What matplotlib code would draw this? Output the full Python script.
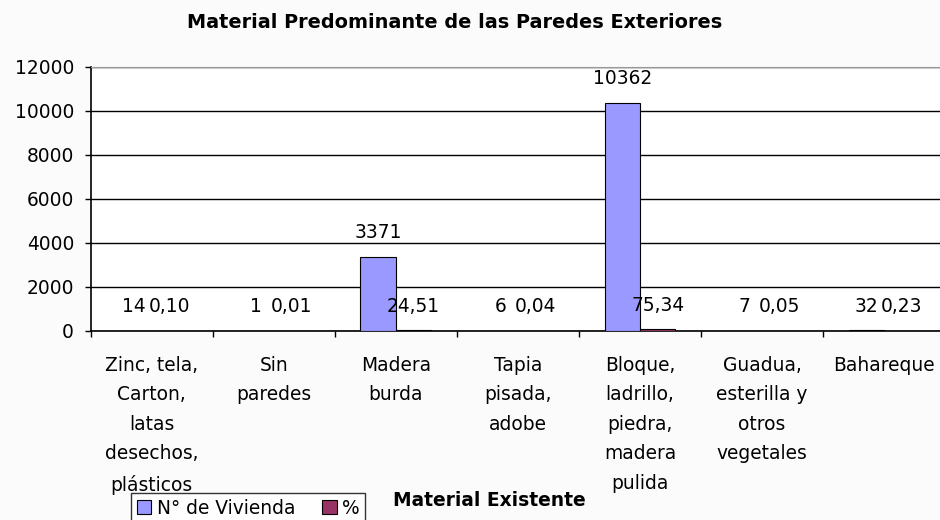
import matplotlib.pyplot as plt
import numpy as np

categorias = ['Zinc, tela,\nCarton,\nlatas\ndesechos,\nplásticos', 'Sin\nparedes',
              'Madera\nburda', 'Tapia\npisada,\nadobe',
              'Bloque,\nladrillo,\npiedra,\nmadera\npulida',
              'Guadua,\nesterilla y\notros\nvegetales', 'Bahareque']
viviendas = [14, 1, 3371, 6, 10362, 7, 32]
porcentaje = [0.10, 0.01, 24.51, 0.04, 75.34, 0.05, 0.23]
etiq_viv = ['14', '1', '3371', '6', '10362', '7', '32']
etiq_pct = ['0,10', '0,01', '24,51', '0,04', '75,34', '0,05', '0,23']
yticks = [0, 2000, 4000, 6000, 8000, 10000, 12000]

plt.rcParams['font.family'] = 'DejaVu Sans'
fs = 13.4

fig = plt.figure(figsize=(9.4, 5.2), dpi=100, facecolor='#fbfbfb')
ax = fig.add_axes([0.0965, 0.3635, 0.909, 0.5085])
ax.set_facecolor('white')

x = np.arange(len(categorias))
w = 0.29
ax.bar(x - w / 2, viviendas, w, color='#9999ff', edgecolor='black', linewidth=0.8,
       label='N° de Vivienda', zorder=3)
ax.bar(x + w / 2, porcentaje, w, color='#993366', edgecolor='black', linewidth=0.8,
       label='%', zorder=3)

# etiquetas de datos
for xi, v, t in zip(x - w / 2, viviendas, etiq_viv):
    ax.annotate(t, (xi, v), xytext=(0, 13.5), textcoords='offset points',
                ha='center', va='baseline', fontsize=fs, zorder=4)
for xi, v, t in zip(x + w / 2, porcentaje, etiq_pct):
    ax.annotate(t, (xi, v), xytext=(0, 13.5), textcoords='offset points',
                ha='center', va='baseline', fontsize=fs, zorder=4)

ax.set_xlim(-0.5, len(categorias) - 0.5)
ax.set_ylim(0, 12000)
ax.set_yticks(yticks)
ax.yaxis.grid(True, color='black', linewidth=1.0, zorder=0)
ax.tick_params(axis='y', labelsize=fs, length=4, width=1, pad=8)

ax.set_xticks(x)
ax.set_xticklabels(categorias, fontsize=fs, linespacing=1.7, va='top')
ax.set_xticks(np.arange(len(categorias) + 1) - 0.5, minor=True)
ax.tick_params(axis='x', which='major', length=0, pad=18)
ax.tick_params(axis='x', which='minor', length=4, width=1)

ax.spines['right'].set_visible(False)
ax.spines['top'].set_color('#999999')
ax.spines['left'].set_linewidth(1.2)
ax.spines['bottom'].set_linewidth(1.2)

fig.text(0.484, 0.956, 'Material Predominante de las Paredes Exteriores',
         ha='center', va='center', fontsize=13.9, fontweight='bold')
fig.text(0.521, 0.038, 'Material Existente', ha='center', va='center',
         fontsize=13.4, fontweight='bold')

leg = fig.legend(loc='upper left', bbox_to_anchor=(131 / 940, 1 - 493 / 520), ncol=2,
                 fontsize=fs, frameon=True, fancybox=False, edgecolor='black',
                 handlelength=0.8, handleheight=0.8, handletextpad=0.3,
                 columnspacing=1.4, borderpad=0.3, borderaxespad=0)
leg.get_frame().set_linewidth(1.0)

fig.savefig('out.png', dpi=100, facecolor=fig.get_facecolor())
